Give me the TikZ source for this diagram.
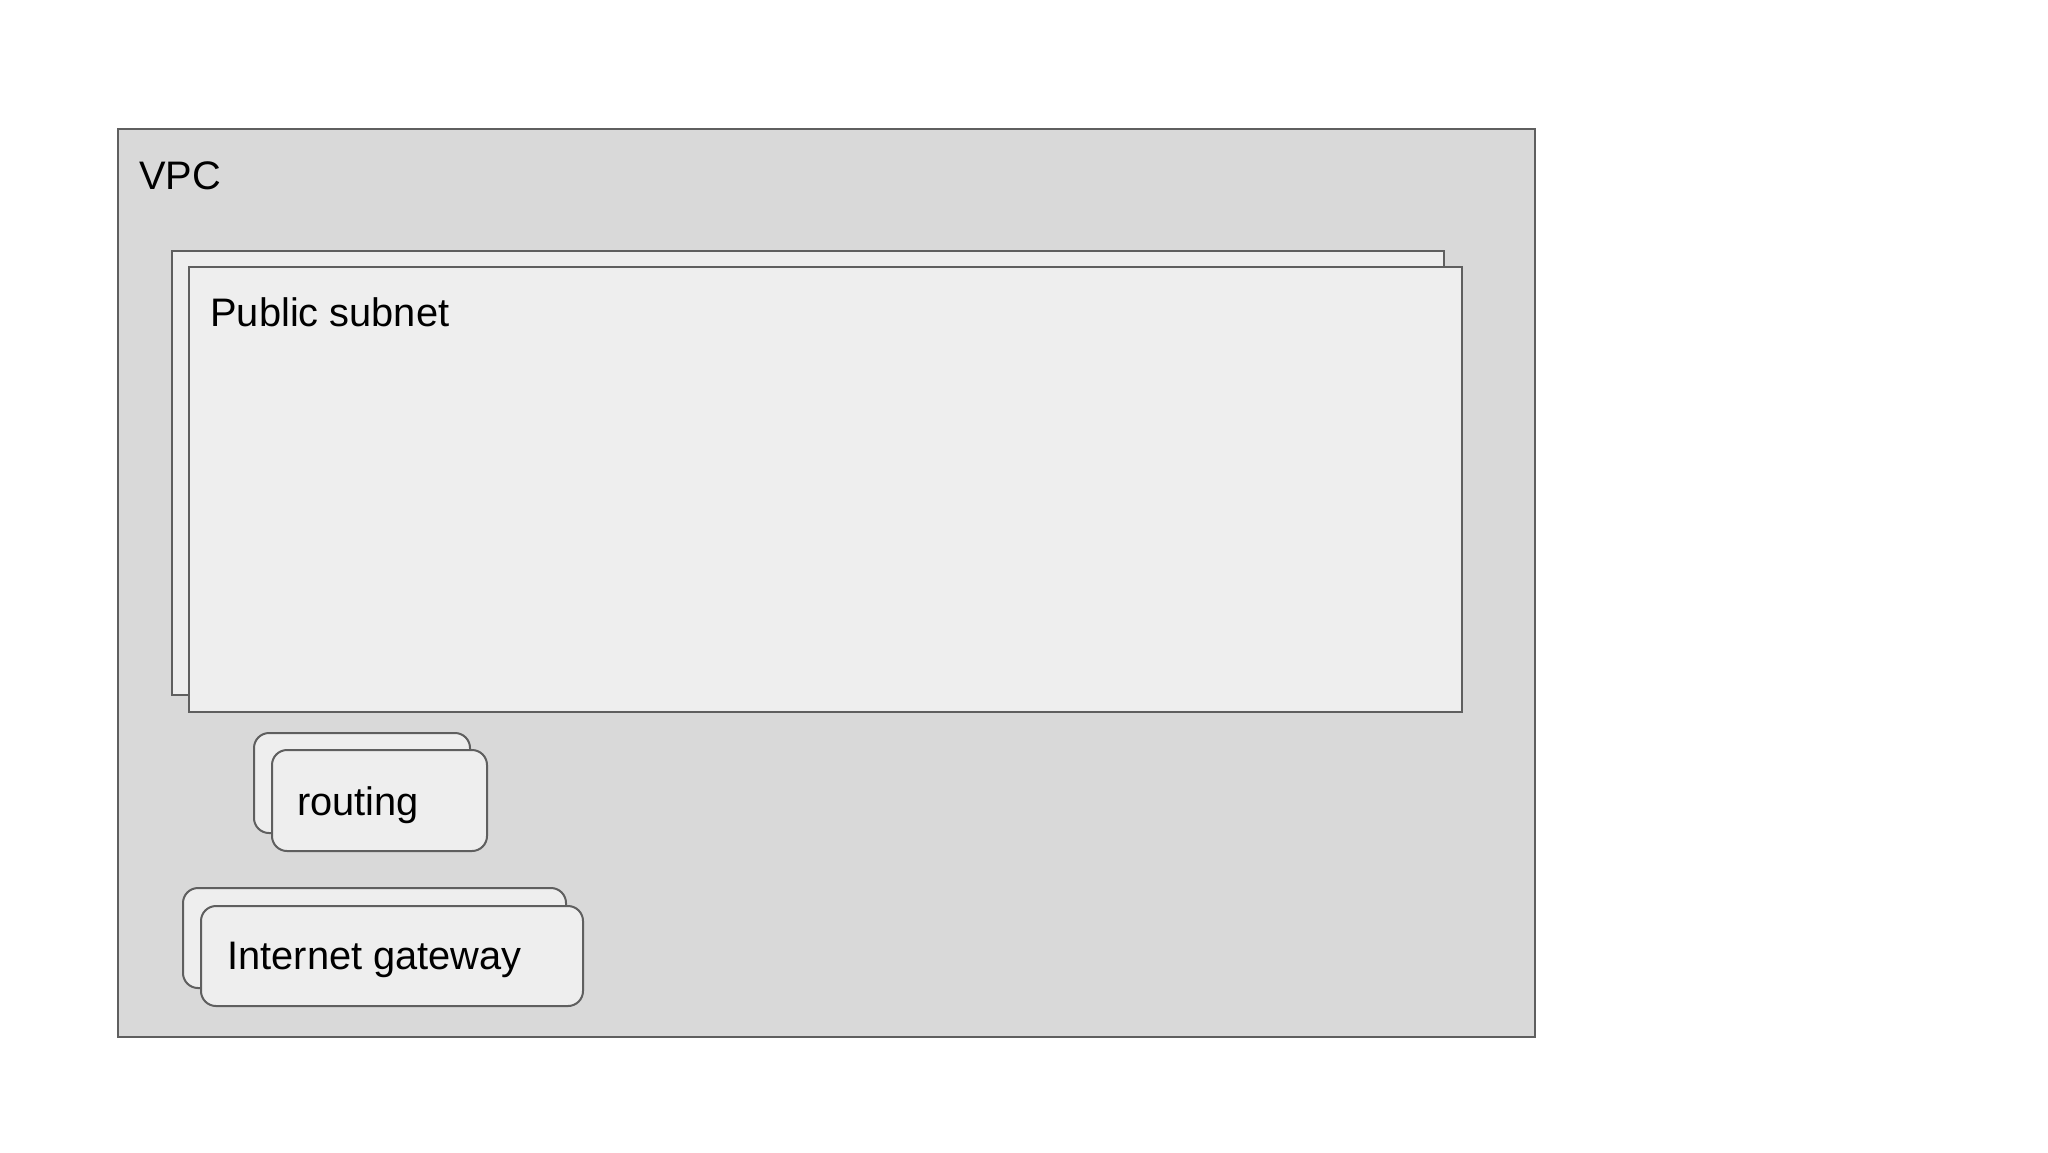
\documentclass[tikz,border=0pt]{standalone}
\usepackage{fontspec}
\setmainfont{Liberation Sans}
\definecolor{vpcfill}{HTML}{D9D9D9}
\definecolor{boxfill}{HTML}{EEEEEE}
\definecolor{edge}{HTML}{5F5F5F}
\begin{document}
\begin{tikzpicture}[
  area/.style={draw=edge, line width=1pt, anchor=north west, inner sep=0pt, outer sep=0pt},
  vpcbox/.style={area, fill=vpcfill},
  subbox/.style={area, fill=boxfill},
  roundbox/.style={area, fill=boxfill, rounded corners=7.5pt},
  lbl/.style={anchor=base west, inner sep=0pt, font=\fontsize{19.9}{23}\selectfont}
]
\useasboundingbox (0pt,0pt) rectangle (1024pt,-576pt);
\node[vpcbox, minimum width=708.5pt, minimum height=454pt] (vpc) at (59pt,-64.5pt) {};
\node[lbl] (vpclabel) at (69.5pt,-94.5pt) {VPC};
\node[subbox, minimum width=636pt, minimum height=222pt] (subback) at (86pt,-125.5pt) {};
\node[subbox, minimum width=636.5pt, minimum height=222.5pt] (subfront) at (94.5pt,-133.5pt) {};
\node[lbl] (sublabel) at (105pt,-163pt) {Public subnet};
\node[roundbox, minimum width=108pt, minimum height=50pt] (rtback) at (127pt,-366.5pt) {};
\node[roundbox, minimum width=107.5pt, minimum height=50.5pt] (rtfront) at (136pt,-375pt) {};
\node[lbl] (rtlabel) at (148.5pt,-407.5pt) {routing};
\node[roundbox, minimum width=191.5pt, minimum height=50pt] (igback) at (91.5pt,-444pt) {};
\node[roundbox, minimum width=191pt, minimum height=50pt] (igfront) at (100.5pt,-453pt) {};
\node[lbl] (iglabel) at (113.5pt,-484.5pt) {Internet gateway};
\end{tikzpicture}
\end{document}
